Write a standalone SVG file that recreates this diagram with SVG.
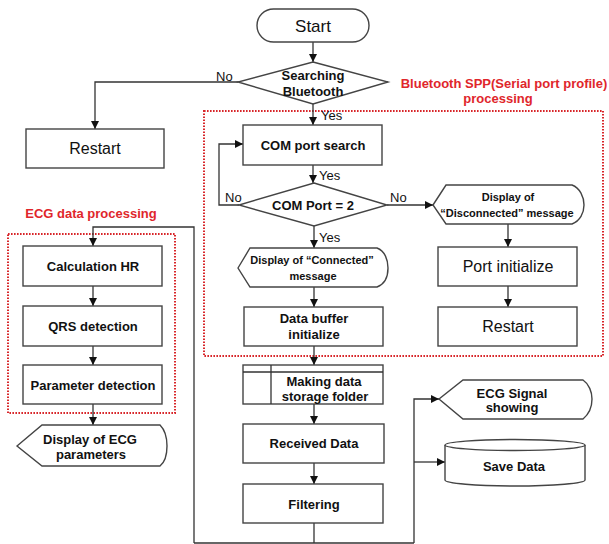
<svg xmlns="http://www.w3.org/2000/svg" width="609" height="544" viewBox="0 0 609 544">
<defs>
<marker id="arr" viewBox="0 0 10 10" refX="10" refY="5" markerWidth="8" markerHeight="8" markerUnits="userSpaceOnUse" orient="auto">
<path d="M0,0 L10,5 L0,10 Z" fill="#111"/>
</marker>
<style>
.shape{fill:#fff;stroke:#444;stroke-width:1.4}
.line{fill:none;stroke:#333;stroke-width:1.3}
.arrow{fill:none;stroke:#333;stroke-width:1.3;marker-end:url(#arr)}
.red{fill:none;stroke:#d8262a;stroke-width:2;stroke-dasharray:1.6 1.4}
.t{font-family:"Liberation Sans",Arial,sans-serif;font-weight:bold;font-size:13px;fill:#111;text-anchor:middle}
.s{font-size:11px}
.big{font-weight:normal;font-size:16px}
.lab{font-family:"Liberation Sans",Arial,sans-serif;font-size:13px;fill:#111}
.title{font-family:"Liberation Sans",Arial,sans-serif;font-weight:bold;font-size:13px;fill:#e0262b;text-anchor:middle}
</style>
</defs>
<rect width="609" height="544" fill="#fff"/>

<g id="groups">
<rect class="red" x="204" y="111" width="399" height="245"/>
<rect class="red" x="8" y="234" width="167" height="179"/>
<text class="title" x="504" y="88">Bluetooth SPP(Serial port profile)</text>
<text class="title" x="498" y="103">processing</text>
<text class="title" x="91" y="218">ECG data processing</text>
</g>

<g id="connectors">
<path class="arrow" d="M313,42 V62"/>
<path class="arrow" d="M238,82 H95 V129"/>
<path class="arrow" d="M313,104 V125"/>
<path class="arrow" d="M313,165 V183"/>
<path class="arrow" d="M239,205 H219 V144 H243"/>
<path class="arrow" d="M387,205 H433"/>
<path class="arrow" d="M314,226 V248"/>
<path class="arrow" d="M314,287 V307"/>
<path class="arrow" d="M314,346 V365"/>
<path class="arrow" d="M314,404 V424"/>
<path class="arrow" d="M314,463 V484"/>
<path class="line" d="M314,523 V543"/>
<path class="line" d="M194,543 H414"/>
<path class="arrow" d="M194,543 V227 H93 V246"/>
<path class="arrow" d="M414,543 V399 H439"/>
<path class="arrow" d="M414,462 H445"/>
<path class="arrow" d="M508,224 V247"/>
<path class="arrow" d="M508,286 V307"/>
<path class="arrow" d="M93,286 V306"/>
<path class="arrow" d="M93,346 V365"/>
<path class="arrow" d="M93,404 V425"/>
<text class="lab" x="216" y="81">No</text>
<text class="lab" x="321" y="120">Yes</text>
<text class="lab" x="319" y="180">Yes</text>
<text class="lab" x="225" y="201.5">No</text>
<text class="lab" x="390" y="201.5">No</text>
<text class="lab" x="319" y="242">Yes</text>
</g>

<g id="start">
<rect class="shape" x="257" y="9" width="112" height="33" rx="16.5"/>
<text class="t big" x="313" y="32" style="font-size:17px">Start</text>
</g>

<g id="searching">
<polygon class="shape" points="313,62 388,82 313,104 238,82"/>
<text class="t" x="313" y="80">Searching</text>
<text class="t" x="313" y="96">Bluetooth</text>
</g>

<g id="restart-left">
<rect class="shape" x="26" y="129" width="138" height="39"/>
<text class="t big" x="95" y="154">Restart</text>
</g>

<g id="com-search">
<rect class="shape" x="243" y="125" width="139" height="40"/>
<text class="t" x="313" y="149.5">COM port search</text>
</g>

<g id="com-port">
<polygon class="shape" points="314,183 387,205 314,226 239,205"/>
<text class="t" x="313" y="209.5">COM Port = 2</text>
</g>

<g id="disp-disconnected">
<path class="shape" d="M433,205 L446,185 H572 C580,188 584,197 584,205 C584,213 580,221 572,224 H446 Z"/>
<text class="t s" x="508" y="201">Display of</text>
<text class="t s" x="507" y="217">“Disconnected” message</text>
</g>

<g id="port-init">
<rect class="shape" x="438" y="247" width="139" height="39"/>
<text class="t big" x="508" y="272">Port initialize</text>
</g>

<g id="restart-right">
<rect class="shape" x="438" y="307" width="139" height="39"/>
<text class="t big" x="508" y="332">Restart</text>
</g>

<g id="disp-connected">
<path class="shape" d="M238,268 L250,248 H377 C385,251 388,260 388,268 C388,276 385,284 377,287 H250 Z"/>
<text class="t s" x="312" y="264">Display of “Connected”</text>
<text class="t s" x="313" y="280">message</text>
</g>

<g id="data-buffer">
<rect class="shape" x="244" y="307" width="139" height="39"/>
<text class="t" x="314" y="322.5">Data buffer</text>
<text class="t" x="314" y="339">initialize</text>
</g>

<g id="making-folder">
<rect class="shape" x="243" y="365" width="140" height="39"/>
<path class="line" d="M243,372 H383 M271,365 V404"/>
<text class="t" x="324" y="385.5">Making data</text>
<text class="t" x="325" y="400.5">storage folder</text>
</g>

<g id="received">
<rect class="shape" x="243" y="424" width="141" height="39"/>
<text class="t" x="314" y="447.5">Received Data</text>
</g>

<g id="filtering">
<rect class="shape" x="243" y="484" width="140" height="39"/>
<text class="t" x="314" y="508.5">Filtering</text>
</g>

<g id="ecg-signal">
<path class="shape" d="M439,399 L463,380 H583 C589,384 592,392 592,399 C592,406 589,414 583,419 H463 Z"/>
<text class="t" x="512" y="397.5">ECG Signal</text>
<text class="t" x="512" y="411.5">showing</text>
</g>

<g id="save-data">
<path class="shape" d="M445,445 V480 A70,6 0 0 0 585,480 V445"/>
<ellipse class="shape" cx="515" cy="445" rx="70" ry="5.5"/>
<text class="t" x="514" y="470.5">Save Data</text>
</g>

<g id="calc-hr">
<rect class="shape" x="23" y="246" width="139" height="40"/>
<text class="t" x="93" y="270.5">Calculation HR</text>
</g>

<g id="qrs">
<rect class="shape" x="23" y="306" width="139" height="40"/>
<text class="t" x="93" y="330.5">QRS detection</text>
</g>

<g id="param">
<rect class="shape" x="23" y="365" width="139" height="39"/>
<text class="t" x="93" y="389.5">Parameter detection</text>
</g>

<g id="disp-ecg">
<path class="shape" d="M17,446 L42,425 H160 C165,430 167,438 167,446 C167,454 165,462 160,466 H42 Z"/>
<text class="t" x="90" y="443.5">Display of ECG</text>
<text class="t" x="91" y="458.5">parameters</text>
</g>
</svg>
